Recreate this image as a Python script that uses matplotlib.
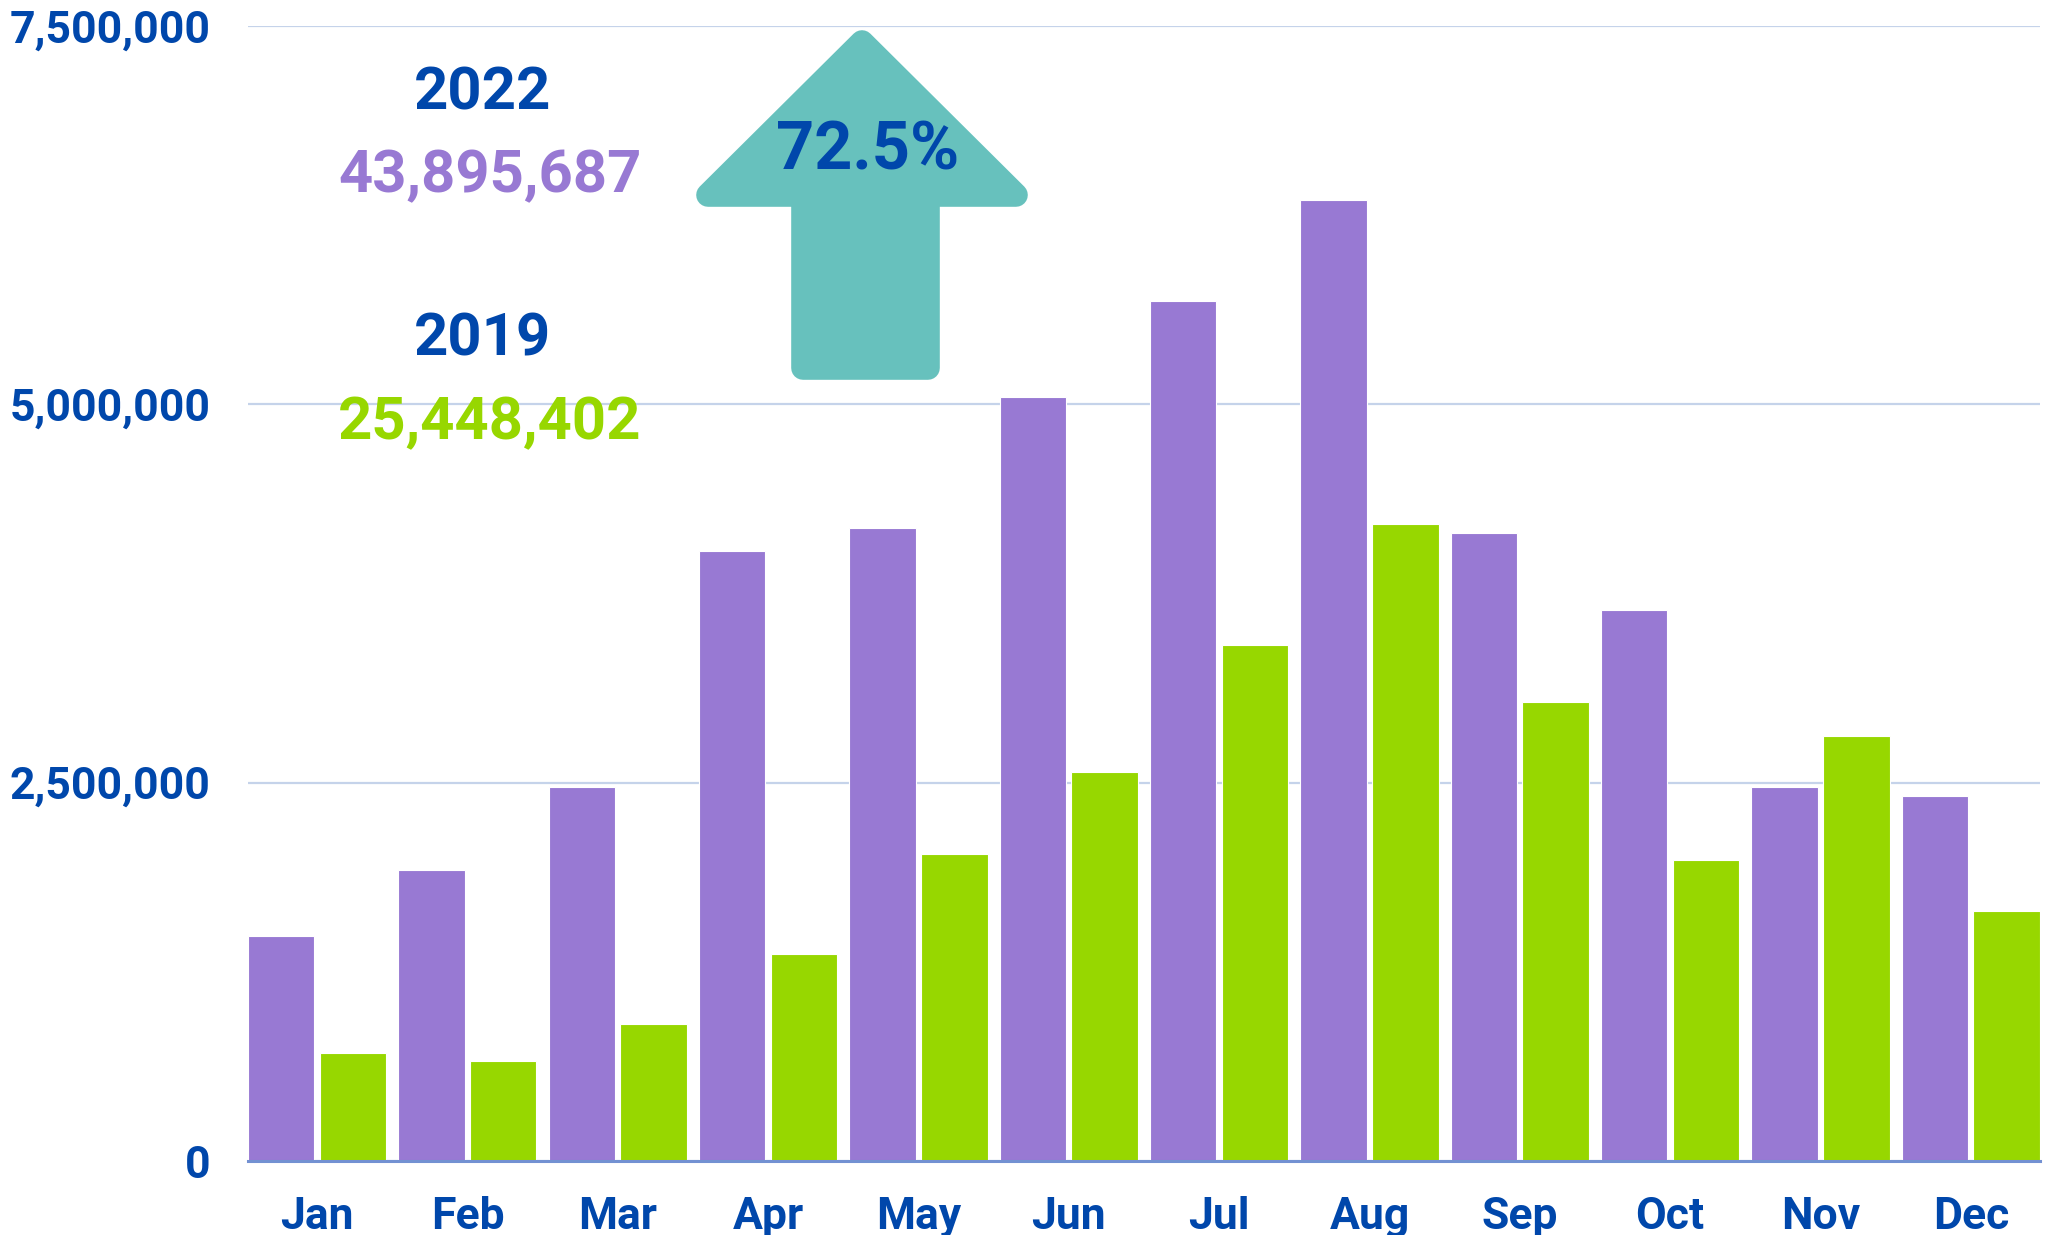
import numpy as np
import matplotlib
matplotlib.use('Agg')
import matplotlib.pyplot as plt
from matplotlib.patches import Polygon
from matplotlib.ticker import FuncFormatter

# monthly values
months = ['Jan', 'Feb', 'Mar', 'Apr', 'May', 'Jun', 'Jul', 'Aug', 'Sep', 'Oct', 'Nov', 'Dec']
vals2022 = [1490000, 1920000, 2470000, 4030000, 4180000, 5050000,
            5680000, 6350000, 4150000, 3640000, 2470000, 2410000]
vals2019 = [716000, 664000, 905000, 1370000, 2030000, 2570000,
            3410000, 4210000, 3030000, 1990000, 2810000, 1650000]
yticks = [0, 2500000, 5000000, 7500000]
total2022 = '43,895,687'
total2019 = '25,448,402'
pct = '72.5%'

purple = '#9879D3'
green = '#97D700'
navy = '#0047AB'
teal = '#67C1BD'

plt.rcParams['font.family'] = ['Roboto', 'DejaVu Sans']
plt.rcParams['font.weight'] = 'bold'

W, H = 2047, 1235
fig = plt.figure(figsize=(W / 100, H / 100), dpi=100)
# axes box in pixels: left 248, right 2040, top 26, bottom 1161
ax = fig.add_axes([248 / W, 1 - 1161 / H, (2040 - 248) / W, (1161 - 26) / H])

x = np.arange(len(months))
bw = 0.442
ax.bar(x, vals2022, width=bw, align='edge', color=purple, edgecolor='white', linewidth=0.8, zorder=3)
ax.bar(x + 0.477, vals2019, width=bw, align='edge', color=green, edgecolor='white', linewidth=0.8, zorder=3)

ax.set_xlim(0, 11.92)
ax.set_ylim(0, 7500000)
ax.set_xticks(x + 0.46)
ax.set_xticklabels(months)
ax.set_yticks(yticks)
ax.yaxis.set_major_formatter(FuncFormatter(lambda v, p: f'{int(v):,}'))
ax.tick_params(axis='both', length=0, labelsize=32, labelcolor=navy)
ax.tick_params(axis='y', pad=27)
ax.tick_params(axis='x', pad=25)
for lab in ax.get_xticklabels() + ax.get_yticklabels():
    lab.set_fontweight('bold')

ax.grid(axis='y', color='#C5D3EA', linewidth=1.6, zorder=0)
ax.set_axisbelow(True)
for s in ['top', 'right', 'left']:
    ax.spines[s].set_visible(False)
ax.spines['bottom'].set_color('#7391D2')
ax.spines['bottom'].set_linewidth(2.2)
ax.spines['bottom'].set_zorder(4)

# up arrow (pixel coords, y from top), drawn with round joins
pts = [(862, 42), (1016, 195), (928, 195), (928, 368),
       (803, 368), (803, 195), (708, 195)]
pts = [(px / W, 1 - py / H) for px, py in pts]
arrow = Polygon(pts, closed=True, transform=fig.transFigure, facecolor=teal,
                edgecolor=teal, linewidth=17, joinstyle='round', zorder=1)
fig.patches.append(arrow)

fig.text(868 / W, 1 - 152 / H, pct, color=navy, fontsize=48, fontweight='bold',
         ha='center', va='center', zorder=5)

fig.text(483 / W, 1 - 94 / H, '2022', color=navy, fontsize=43, fontweight='bold', ha='center', va='center')
fig.text(490 / W, 1 - 176 / H, total2022, color=purple, fontsize=43, fontweight='bold', ha='center', va='center')
fig.text(483 / W, 1 - 340 / H, '2019', color=navy, fontsize=43, fontweight='bold', ha='center', va='center')
fig.text(490 / W, 1 - 423 / H, total2019, color=green, fontsize=43, fontweight='bold', ha='center', va='center')

plt.savefig('out.png', dpi=100, facecolor='white')
